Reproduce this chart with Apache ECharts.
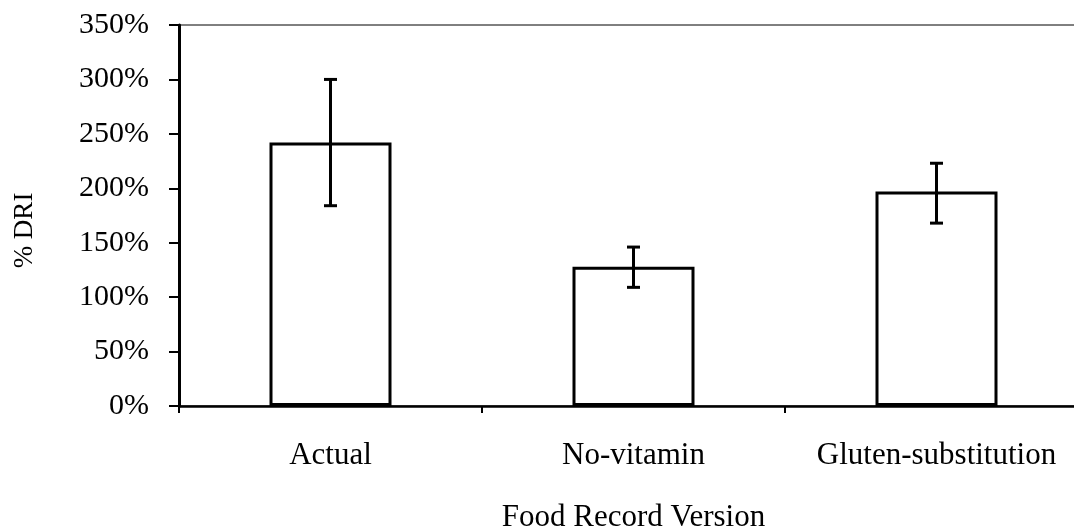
<!DOCTYPE html>
<html>
<head>
<meta charset="utf-8">
<script src="https://cdn.jsdelivr.net/npm/echarts@6/dist/echarts.min.js"></script>
<style>
html,body{margin:0;padding:0;background:#fff;}
#chart{width:1074px;height:529px;}
</style>
</head>
<body>
<div id="chart"></div>
<script>
var categories = ['Actual', 'No-vitamin', 'Gluten-substitution'];
var values = [242, 128, 197];
var errLow = [184, 109, 168];
var errHigh = [300, 146, 223];
var yTicks = [0, 50, 100, 150, 200, 250, 300, 350];

var FONT = '"Liberation Serif", "Times New Roman", serif';
var chart = echarts.init(document.getElementById('chart'));
var errData = categories.map(function (c, i) { return [i, errLow[i], errHigh[i]]; });

chart.setOption({
  animation: false,
  backgroundColor: '#fff',
  grid: {
    left: 179, top: 25, width: 909, height: 381,
    containLabel: false,
    outerBoundsMode: 'none',
    show: true, borderColor: '#000', borderWidth: 1, backgroundColor: 'transparent'
  },
  xAxis: {
    type: 'category',
    data: categories,
    name: 'Food Record Version',
    nameLocation: 'middle',
    nameGap: 96,
    nameTextStyle: { fontFamily: FONT, fontSize: 31, color: '#000' },
    axisLine: { lineStyle: { color: '#000', width: 2.5 } },
    axisTick: { show: true, length: 7, lineStyle: { color: '#000', width: 2 } },
    axisLabel: { fontFamily: FONT, fontSize: 31, color: '#000', margin: 34, interval: 0 },
    splitLine: { show: false }
  },
  yAxis: {
    type: 'value',
    min: yTicks[0],
    max: yTicks[yTicks.length - 1],
    interval: 50,
    name: '% DRI',
    nameLocation: 'middle',
    nameGap: 141,
    nameTextStyle: { fontFamily: FONT, fontSize: 27, color: '#000', padding: [0, 30, 0, 0] },
    axisLine: { show: true, lineStyle: { color: '#000', width: 3 } },
    axisTick: { show: true, length: 10, lineStyle: { color: '#000', width: 2 } },
    axisLabel: { fontFamily: FONT, fontSize: 30, color: '#000', margin: 30, formatter: '{value}%' },
    splitLine: { show: false }
  },
  series: [
    {
      type: 'bar',
      data: values,
      barWidth: 122,
      itemStyle: { color: '#fff', borderColor: '#000', borderWidth: 3 }
    },
    {
      type: 'custom',
      data: errData,
      z: 10,
      renderItem: function (params, api) {
        var x = api.value(0);
        var lo = api.coord([x, api.value(1)]);
        var hi = api.coord([x, api.value(2)]);
        var hw = 6.5;
        var st = { stroke: '#000', lineWidth: 3 };
        return {
          type: 'group',
          children: [
            { type: 'line', shape: { x1: hi[0], y1: hi[1], x2: lo[0], y2: lo[1] }, style: st },
            { type: 'line', shape: { x1: hi[0] - hw, y1: hi[1], x2: hi[0] + hw, y2: hi[1] }, style: st },
            { type: 'line', shape: { x1: lo[0] - hw, y1: lo[1], x2: lo[0] + hw, y2: lo[1] }, style: st }
          ]
        };
      }
    }
  ]
});
</script>
</body>
</html>
